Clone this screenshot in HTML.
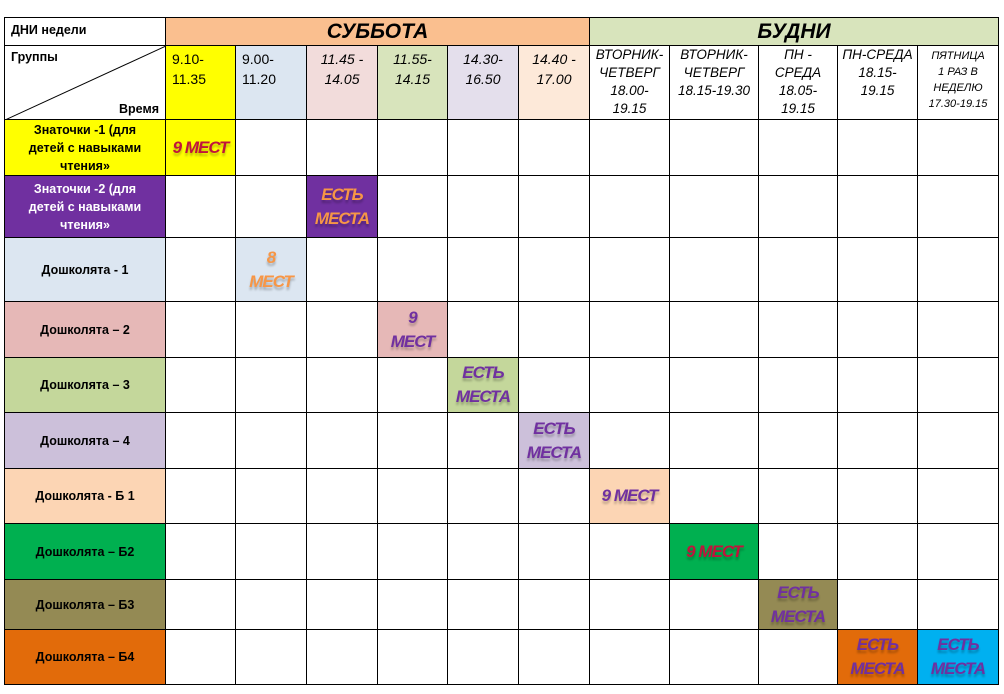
<!DOCTYPE html>
<html><head><meta charset="utf-8"><style>
body{margin:0;width:1004px;height:694px;background:#fff;position:relative;font-family:"Liberation Sans","Noto Sans CJK SC",sans-serif;overflow:hidden}
.c{position:absolute;box-sizing:border-box;border:1px solid #000;display:flex;align-items:center;justify-content:center;text-align:center;font-size:12px;line-height:17px}
.rh{font-weight:bold;font-size:12.5px;line-height:18px}
.big{font-weight:bold;font-style:italic;font-size:17px;line-height:24px;text-shadow:0 3px 2px rgba(0,0,0,.25);letter-spacing:-1px}
.t{align-items:flex-start;font-size:13.5px;line-height:19px;padding-top:3px}
</style></head><body>
<div id="root"></div>
<script>
const X=[4,165,235,306,377,447,518,589,669,758,837,917,998];
const Y=[17,45,119,175,237,301,357,412,468,523,579,629,684];
const groups=["Знаточки -1 (для детей с навыками чтения»","Знаточки -2 (для детей с навыками чтения»","Дошколята - 1","Дошколята – 2","Дошколята – 3","Дошколята – 4","Дошколята - Б 1","Дошколята – Б2","Дошколята – Б3","Дошколята – Б4"];
const groupColors=["#ffff00","#7030a0","#dce6f1","#e6b8b7","#c4d79b","#ccc0da","#fcd5b4","#00b050","#948a54","#e26b0a"];
const times=["9.10-<br>11.35","9.00-<br>11.20","<i>11.45 -<br>14.05</i>","<i>11.55-<br>14.15</i>","<i>14.30-<br>16.50</i>","<i>14.40 -<br>17.00</i>","<i>ВТОРНИК-<br>ЧЕТВЕРГ<br>18.00-<br>19.15</i>","<i>ВТОРНИК-<br>ЧЕТВЕРГ<br>18.15-19.30</i>","<i>ПН -<br>СРЕДА<br>18.05-<br>19.15</i>","<i>ПН-СРЕДА<br>18.15-<br>19.15</i>","<i>ПЯТНИЦА<br>1 РАЗ В<br>НЕДЕЛЮ<br>17.30-19.15</i>"];
const timeColors=["#ffff00","#dce6f1","#f2dcdb","#d8e4bc","#e4dfec","#fde9d9","#fff","#fff","#fff","#fff","#fff"];
const marks=[[0,0,"9 МЕСТ","#ffff00","#c0143c"],[1,2,"ЕСТЬ<br>МЕСТА","#7030a0","#f79646"],[2,1,"8<br>МЕСТ","#dce6f1","#f79646"],[3,3,"9<br>МЕСТ","#e6b8b7","#7030a0"],[4,4,"ЕСТЬ<br>МЕСТА","#c4d79b","#7030a0"],[5,5,"ЕСТЬ<br>МЕСТА","#ccc0da","#7030a0"],[6,6,"9 МЕСТ","#fcd5b4","#7030a0"],[7,7,"9 МЕСТ","#00b050","#c0143c"],[8,8,"ЕСТЬ<br>МЕСТА","#948a54","#7030a0"],[9,9,"ЕСТЬ<br>МЕСТА","#e26b0a","#7030a0"],[9,10,"ЕСТЬ<br>МЕСТА","#00b0f0","#7030a0"]];
const root=document.getElementById('root');
function cell(x0,y0,x1,y1,html,cls,bg,name){
 const d=document.createElement('div');d.className='c '+(cls||'');
 d.style.left=x0+'px';d.style.top=y0+'px';d.style.width=(x1-x0+1)+'px';d.style.height=(y1-y0+1)+'px';
 if(bg)d.style.background=bg;d.innerHTML=html;
 
 
 root.appendChild(d);return d;}
let h=cell(X[0],Y[0],X[1],Y[1],"ДНИ недели","rh","#fff","days-label");h.style.justifyContent='flex-start';h.style.padding='0 6px';h.style.alignItems='flex-start';h.style.lineHeight='17px';h.style.paddingTop='4px';
cell(X[1],Y[0],X[7],Y[1],"СУББОТА","big","#fabf8f","saturday-header").style.cssText+="font-size:21px;text-shadow:none;letter-spacing:0;";
cell(X[7],Y[0],X[12],Y[1],"БУДНИ","big","#d8e4bc","weekdays-header").style.cssText+="font-size:21px;text-shadow:none;letter-spacing:0;";
let corner=cell(X[0],Y[1],X[1],Y[2],"","rh","#fff","corner-header");
corner.innerHTML='<svg width="161" height="74" style="position:absolute;left:0;top:0"><line x1="0" y1="74" x2="161" y2="0" stroke="#000"/></svg><span style="position:absolute;left:6px;top:2px">Группы</span><span style="position:absolute;right:6px;bottom:1px">Время</span>';
times.forEach((t,i)=>{const d=cell(X[i+1],Y[1],X[i+2],Y[2],t,"t",timeColors[i],"time-col-"+(i+1));
 if(i<6){d.style.fontSize='14px';d.style.lineHeight='20px';}
 else {d.style.paddingTop='0px';d.style.lineHeight='18px';}
 if(i<2){d.style.justifyContent='flex-start';d.style.paddingLeft='6px';d.style.textAlign='left';}
 if(i==10){d.style.fontSize='11px';d.style.lineHeight='16px';d.style.paddingTop='2px';}});
groups.forEach((g,r)=>{const d=cell(X[0],Y[r+2],X[1],Y[r+3],g,"rh",groupColors[r],"group-"+(r+1));
 if(r==1)d.style.color='#fff';d.style.padding='0 14px';
 for(let c=0;c<11;c++)cell(X[c+1],Y[r+2],X[c+2],Y[r+3],"","", "#fff","cell-"+(r+1)+"-"+(c+1));});
marks.forEach(m=>{const d=cell(X[m[1]+1],Y[m[0]+2],X[m[1]+2],Y[m[0]+3],m[2],"big",m[3],"availability-"+(m[0]+1)+"-"+(m[1]+1));d.style.color=m[4];});
</script>
</body></html>
